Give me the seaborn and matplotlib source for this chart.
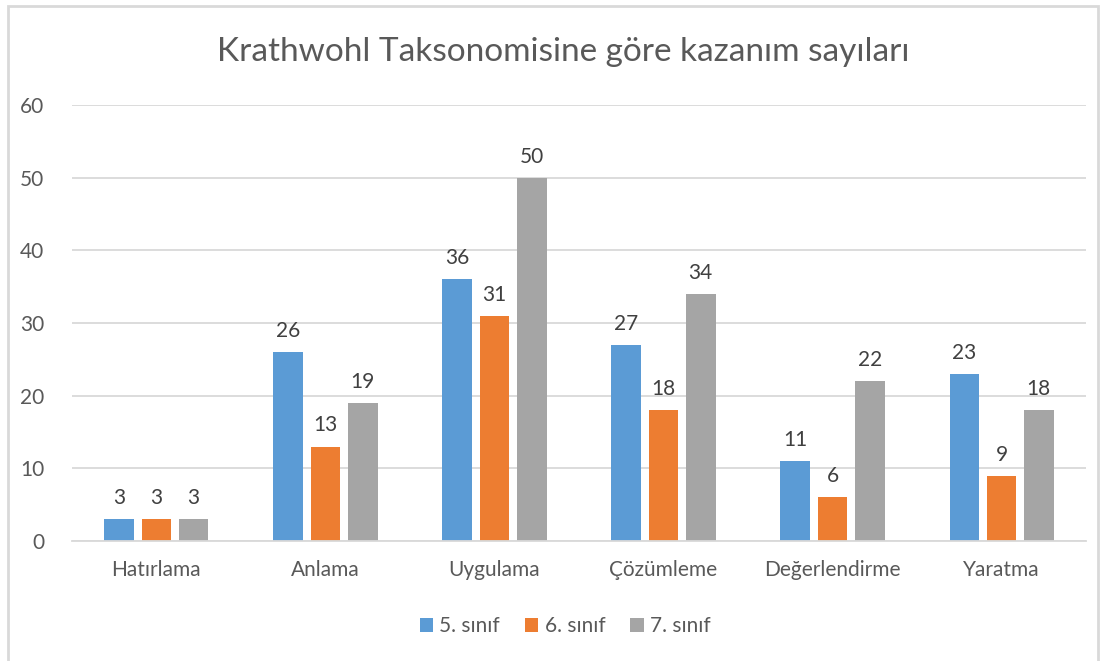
import pandas as pd
import matplotlib.pyplot as plt
import seaborn as sns
from matplotlib.patches import Rectangle

categories = ['Hatırlama', 'Anlama', 'Uygulama', 'Çözümleme', 'Değerlendirme', 'Yaratma']
series = ['5. sınıf', '6. sınıf', '7. sınıf']
sinif5 = [3, 26, 36, 27, 11, 23]
sinif6 = [3, 13, 31, 18, 6, 9]
sinif7 = [3, 19, 50, 34, 22, 18]
colors = ['#5B9BD5', '#ED7D31', '#A5A5A5']

df = pd.DataFrame({
    'Kategori': categories * 3,
    'Sınıf': [s for s in series for _ in categories],
    'Sayı': sinif5 + sinif6 + sinif7,
})

sns.set_style('white')
plt.rcParams['font.family'] = ['Lato', 'DejaVu Sans']
text_gray = '#595959'

fig = plt.figure(figsize=(11.06, 6.61), dpi=100)
ax = fig.add_axes([0.065, 0.1815, 0.917, 0.6596])

sns.barplot(data=df, x='Kategori', y='Sayı', hue='Sınıf', order=categories,
            hue_order=series, palette=colors, width=0.66, gap=0.2,
            saturation=1, linewidth=0, ax=ax, legend=True)

for c in ax.containers:
    ax.bar_label(c, padding=8, fontsize=15, color='#404040')

ax.set_ylim(0, 60)
ax.set_yticks(range(0, 61, 10))
ax.set_xlim(-0.5, 5.5)
ax.grid(axis='y', color='#d9d9d9', linewidth=1.3)
ax.set_axisbelow(True)
for s in ['top', 'right', 'left']:
    ax.spines[s].set_visible(False)
ax.spines['bottom'].set_color('#d9d9d9')
ax.spines['bottom'].set_linewidth(1.3)
ax.tick_params(axis='y', length=0, pad=20, labelsize=15, labelcolor=text_gray)
ax.tick_params(axis='x', length=0, pad=14, labelsize=15, labelcolor=text_gray)
ax.set_xlabel('')
ax.set_ylabel('')

fig.text(0.509, 0.921, 'Krathwohl Taksonomisine göre kazanım sayıları',
         ha='center', va='center', fontsize=24, color=text_gray)

ax.legend(loc='center', bbox_to_anchor=(0.511, 0.053), bbox_transform=fig.transFigure,
          ncol=3, frameon=False, fontsize=15, labelcolor=text_gray,
          handlelength=0.65, handleheight=0.65, handletextpad=0.3, columnspacing=1.2)

fig.patches.append(Rectangle((8 / 1106, -0.1), 1090 / 1106, 1.1 - 6 / 661,
                             transform=fig.transFigure, fill=False,
                             edgecolor='#d9d9d9', linewidth=2))

fig.savefig('out.png', dpi=100)
